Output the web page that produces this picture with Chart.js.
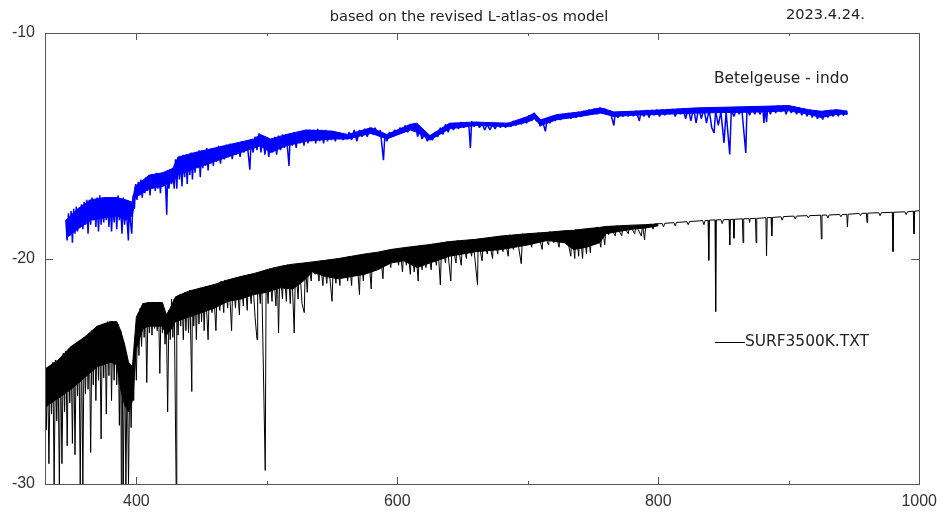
<!DOCTYPE html>
<html>
<head>
<meta charset="utf-8">
<title>Betelgeuse - L-atlas-os</title>
<script src="https://cdn.jsdelivr.net/npm/chart.js@4"></script>
<style>
  html, body { margin: 0; padding: 0; background: #fff; }
  #wrap { width: 942px; height: 515px; }
</style>
</head>
<body>
<div id="wrap"><canvas id="spec" width="942" height="515"></canvas></div>
<script>
// tick labels / marks
const xTickLabels = [400, 600, 800, 1000];
const xTickMarks = [400, 500, 600, 700, 800, 900, 1000];
const yTickLabels = [-30, -20, -10];
const yTickMarks = [-20];

// model spectrum SURF3500K.TXT  [wavelength, flux]
const surfSpectrum = [
  [330,-25.0],[331,-27.6],[332,-24.9],[333,-29.1],[334,-24.8],[335,-26.9],[336,-24.6],[337,-30.0],[338,-24.5],[339,-27.2],
  [340,-24.6],[341,-30.0],[342,-24.4],[343,-29.1],[344,-24.2],[345,-26.8],[346,-24.1],[347,-28.3],[348,-24.0],[349,-26.4],
  [350,-23.9],[351,-28.2],[352,-23.9],[353,-28.7],[354,-23.8],[355,-26.1],[356,-23.7],[357,-30.0],[358,-23.6],[359,-30.0],
  [360,-23.5],[361,-26.0],[362,-23.4],[363,-25.8],[364,-23.3],[365,-28.6],[366,-23.2],[367,-25.6],[368,-23.1],[369,-26.3],
  [370,-23.0],[371,-25.4],[372,-23.0],[373,-28.0],[374,-22.9],[375,-25.3],[376,-22.9],[377,-26.9],[378,-22.8],[379,-25.2],
  [380,-22.8],[381,-26.3],[382,-22.8],[383,-25.4],[384,-22.8],[385,-25.6],[386,-22.9],[387,-27.4],[388,-23.2],[388.5,-30.0],
  [389,-23.6],[390,-30.0],[391,-24.0],[392,-30.0],[393,-24.6],[394,-30.0],[395,-25.0],[396,-27.5],[397,-24.8],[398,-26.3],
  [399,-23.5],[400,-25.4],[401,-22.6],[402,-24.3],[403,-22.2],[404,-23.9],[405,-22.0],[406,-23.5],[407,-22.0],[408,-25.5],
  [409,-21.95],[410,-23.3],[411,-22.0],[412,-23.4],[413,-21.95],[414,-23.1],[415,-22.0],[416,-23.2],[417,-21.95],[418,-25.1],
  [419,-21.95],[420,-23.3],[421,-22.2],[422,-23.8],[423,-22.6],[424,-26.8],[425,-22.3],[426,-23.6],[427,-21.8],[428,-23.5],
  [429,-21.8],[430.5,-30.0],[431,-21.7],[432,-23.4],[433,-21.6],[434,-23.0],[435,-21.6],[436,-23.6],[437,-21.5],[438,-23.2],
  [439,-21.5],[440,-23.3],[441,-21.4],[442.5,-25.9],[443,-21.4],[444,-23.0],[445,-21.4],[446,-23.6],[447,-21.35],[448,-22.9],
  [449,-21.3],[450,-22.8],[451,-21.3],[452,-23.2],[453,-21.25],[455,-23.6],[456,-21.2],[458,-22.4],[459,-21.15],[461,-23.2],
  [462,-21.1],[464,-22.3],[465,-21.0],[467,-22.4],[468,-20.95],[470,-22.2],[471,-20.95],[473,-23.2],[474,-20.9],[476,-22.2],
  [477,-20.85],[479,-22.5],[480,-20.8],[482,-22.1],[483,-20.75],[485,-22.3],[486,-20.7],[488,-22.0],[489,-20.7],[491,-22.6],
  [492.5,-23.6],[493,-20.6],[495,-22.0],[496,-20.55],[498.8,-29.4],[499.5,-20.5],[501,-22.0],[502,-20.45],[504,-21.9],[505,-20.4],
  [507,-22.1],[508,-20.4],[509,-23.3],[510,-20.35],[512,-21.8],[513,-20.3],[515,-21.9],[516,-20.27],[518,-22.0],[519,-20.25],
  [521,-23.3],[522,-20.25],[524,-21.8],[525,-20.2],[527,-22.0],[528.7,-22.4],[529.5,-20.2],[531,-21.5],[532,-20.2],[534,-21.0],
  [535,-20.15],[537,-20.7],[538,-20.15],[540,-21.0],[541,-20.1],[543,-21.2],[544,-20.1],[546,-21.1],[547,-20.05],[550,-21.9],
  [551,-20.05],[553,-21.1],[554,-20.0],[556,-21.2],[557,-20.0],[559,-20.8],[560,-19.95],[562,-21.0],[563,-19.9],[565,-21.2],
  [566,-19.9],[568,-20.6],[569,-19.85],[571,-21.6],[572,-19.85],[574,-21.0],[575,-19.8],[577,-20.6],[578,-19.8],[580,-21.35],
  [581,-19.75],[583,-20.5],[584,-19.75],[586,-20.4],[587,-19.7],[589,-20.9],[590,-19.7],[592,-20.3],[593,-19.65],[595,-20.4],
  [596,-19.6],[598,-20.2],[599,-19.6],[601,-20.3],[602,-19.55],[604,-20.6],[605,-19.55],[607,-20.3],[608,-19.5],[610,-20.7],
  [611,-19.5],[613,-20.6],[614,-19.45],[616,-21.0],[617,-19.45],[619,-20.5],[620,-19.4],[622,-20.4],[623,-19.4],[626,-20.5],
  [627,-19.35],[630,-20.3],[631,-19.35],[633,-21.17],[634,-19.3],[637,-20.2],[638,-19.25],[641,-21.0],[642,-19.25],[645,-20.2],
  [646,-19.2],[649,-20.3],[650,-19.2],[653,-20.0],[654,-19.2],[657,-19.9],[658,-19.15],[661.5,-21.17],[662,-19.15],[665,-20.1],
  [666,-19.1],[669,-19.8],[670,-19.1],[673,-20.0],[674,-19.05],[677,-19.8],[678,-19.0],[681,-19.7],[682,-19.0],[685,-19.9],
  [686,-18.95],[689,-19.6],[690,-18.95],[693,-19.5],[695,-20.23],[696,-18.9],[699,-19.4],[700,-18.9],[703,-19.5],[704,-18.9],
  [707,-19.3],[708,-18.85],[711,-19.6],[712,-18.85],[716,-19.4],[717,-18.8],[720,-19.3],[721,-18.8],[724,-19.5],[725,-18.8],
  [728,-19.3],[729,-18.75],[733,-19.9],[734,-18.75],[736,-20.0],[737,-18.7],[739,-19.9],[740,-18.7],[742,-20.0],[743,-18.7],
  [745,-19.8],[746,-18.65],[748,-19.76],[749,-18.65],[752,-19.2],[753,-18.6],[756,-19.5],[757,-18.6],[759,-19.39],[760,-18.58],
  [762,-18.95],[763,-18.56],[767,-19.0],[768,-18.55],[772,-19.0],[773,-18.54],[777,-18.9],[778,-18.52],[782,-18.9],[783,-18.52],
  [787,-19.0],[788,-18.51],[789.5,-19.17],[790.5,-18.5],[795,-18.48],[796,-18.7],[797,-18.47],[803,-18.45],[804,-18.6],[805,-18.44],
  [812,-18.41],[813,-18.55],[814,-18.4],[822,-18.37],[823,-18.5],[824,-18.36],[834,-18.32],[835,-18.5],[836,-18.31],[838.2,-18.31],
  [838.7,-20.08],[839.2,-18.3],[843.5,-18.29],[844,-22.35],[844.5,-18.29],[848,-18.28],[849,-18.45],[850,-18.28],[854.3,-18.27],[854.8,-19.4],
  [855.3,-18.27],[857.5,-18.26],[858,-19.1],[858.5,-18.26],[864.5,-18.24],[865,-19.3],[865.5,-18.24],[869.5,-18.23],[870,-18.4],[870.5,-18.23],
  [874.5,-18.22],[875,-19.3],[875.5,-18.22],[882.5,-18.19],[883,-19.88],[883.5,-18.19],[886.5,-18.18],[887,-19.0],[887.5,-18.18],[894,-18.15],
  [895,-18.3],[896,-18.14],[904,-18.12],[905,-18.25],[906,-18.12],[914,-18.1],[915,-18.2],[916,-18.1],[924.5,-18.08],[925,-19.13],
  [925.5,-18.08],[929,-18.07],[930,-18.2],[931,-18.07],[939,-18.05],[940,-18.15],[941,-18.05],[944.5,-18.04],[945,-18.6],[945.5,-18.04],
  [954,-18.0],[955,-18.1],[956,-18.0],[959.5,-17.99],[960,-18.4],[960.5,-17.99],[969,-17.97],[970,-18.1],[971,-17.97],[979.4,-17.95],
  [979.9,-19.69],[980.4,-17.95],[989,-17.93],[990,-18.05],[991,-17.93],[995.5,-17.9],[996,-18.9],[996.5,-17.9],[1000,-17.88]
];

// dense part of the model spectrum: top of the band and bottom of its solid core
const surfBandWl = [330,340,350,360,370,380,385,388,391,394,397,400,405,410,415,420,423,426,430,440,
  450,460,470,480,490,500,510,520,528,535,545,555,565,575,585,595,605,615,625,640,
  660,680,700,715,728,735,745,755,760,770,780,790,800];
const surfBandTop = [-24.9,-24.5,-23.9,-23.5,-23.0,-22.8,-22.8,-23.2,-23.8,-24.6,-24.8,-22.6,-22.0,-21.95,-21.95,-21.95,-22.5,-22.2,-21.7,-21.45,
  -21.3,-21.15,-20.95,-20.8,-20.67,-20.5,-20.35,-20.25,-20.2,-20.15,-20.08,-20.0,-19.9,-19.8,-19.72,-19.6,-19.52,-19.45,-19.38,-19.25,
  -19.15,-19.0,-18.9,-18.84,-18.77,-18.75,-18.68,-18.62,-18.58,-18.55,-18.52,-18.5,-18.47];
const surfBandCore = [-26.6,-26.2,-25.8,-25.3,-24.8,-24.6,-24.7,-25.8,-26.5,-26.8,-26.3,-24.0,-23.1,-23.0,-23.0,-23.0,-23.4,-23.2,-22.8,-22.6,
  -22.4,-22.2,-21.9,-21.8,-21.6,-21.5,-21.3,-21.35,-21.0,-20.6,-20.8,-20.9,-20.8,-20.7,-20.5,-20.2,-20.1,-20.4,-20.2,-19.9,
  -19.7,-19.6,-19.4,-19.2,-19.3,-19.6,-19.5,-19.3,-18.9,-18.8,-18.7,-18.65,-18.55];

// observed Betelgeuse spectrum (indo)  [wavelength, flux]
const betelgeuseSpectrum = [
  [346,-18.3],[347,-19.2],[348,-18.0],[349,-19.0],[350,-17.9],[351,-19.3],[352,-17.8],[353,-18.9],[354,-17.7],[355,-18.8],
  [356,-17.8],[357,-18.4],[358,-17.6],[359,-18.7],[360,-17.5],[361,-18.5],[362,-17.4],[363,-18.9],[364,-17.4],[365,-18.5],
  [366,-17.3],[367,-18.3],[368,-17.5],[369,-18.6],[370,-17.3],[371,-18.8],[372,-17.2],[373,-18.5],[374,-17.4],[375,-18.4],
  [376,-17.6],[377,-18.3],[378,-17.3],[379,-18.6],[380,-17.4],[381,-18.8],[382,-17.5],[383,-18.4],[384,-17.3],[385,-18.7],
  [386,-17.2],[387,-18.3],[388,-17.6],[389,-18.9],[390,-17.3],[391,-18.5],[392,-17.5],[393.9,-19.2],[394.5,-17.6],[395.5,-18.4],
  [396.5,-18.9],[397.5,-17.2],[398.5,-17.8],[399.5,-16.7],[400.5,-17.4],[401.5,-16.6],[402.5,-17.2],[403.5,-16.5],[404.5,-17.3],[405.5,-16.6],
  [406.5,-17.1],[407.5,-16.4],[408.5,-17.0],[409.5,-16.3],[410.5,-17.2],[411.5,-16.4],[412.5,-16.9],[413.5,-16.3],[414.5,-17.0],[415.5,-16.2],
  [416.5,-16.9],[417.5,-16.4],[418.5,-17.1],[419.5,-16.2],[420.5,-16.8],[421.5,-16.3],[422.5,-16.9],[423.3,-18.06],[424,-16.2],[425,-16.9],
  [426,-16.1],[427,-16.7],[428,-16.0],[429,-16.9],[430,-15.6],[431,-16.9],[432,-15.5],[433,-16.5],[434,-15.6],[435,-16.8],
  [436,-15.4],[437,-16.4],[438,-15.5],[439,-16.7],[440,-15.4],[441,-16.3],[442,-15.3],[443,-16.5],[444,-15.4],[445,-16.2],
  [446,-15.3],[447,-16.0],[448,-15.2],[449,-16.4],[450,-15.2],[451,-16.0],[452,-15.2],[453,-15.9],[454,-15.1],[455,-16.1],
  [456,-15.2],[457,-15.8],[458,-15.1],[459,-15.9],[460,-15.1],[461.5,-15.7],[463,-15.0],[464.5,-15.8],[466,-15.0],[467.5,-15.6],
  [469,-14.95],[470.5,-15.5],[472,-14.9],[473.5,-15.6],[475,-14.9],[476.5,-15.4],[478,-14.85],[479.5,-15.5],[481,-14.8],[482.5,-15.3],
  [484,-14.8],[485.5,-15.2],[487,-16.06],[488,-14.75],[489.5,-15.3],[491,-14.6],[492.5,-15.2],[494,-14.45],[495.5,-15.3],[497,-14.6],
  [498.5,-15.4],[500,-14.7],[501.5,-15.5],[503,-14.7],[504.5,-15.3],[506,-14.6],[507.5,-15.4],[509,-14.55],[510.5,-15.2],[512,-14.5],
  [513.5,-15.1],[515,-14.5],[517,-15.9],[518,-14.45],[519.5,-15.0],[521,-14.4],[522.5,-15.1],[524,-14.4],[525.5,-14.9],[527,-14.35],
  [528.5,-15.0],[530,-14.3],[531.5,-14.9],[533,-14.3],[534.5,-14.8],[536,-14.3],[537.5,-14.9],[539,-14.25],[540.5,-14.8],[542,-14.3],
  [543.5,-14.9],[545,-14.3],[546.5,-14.8],[548,-14.35],[549.5,-14.75],[551,-14.35],[552.5,-14.8],[554,-14.4],[555.5,-14.7],[557,-14.45],
  [558.5,-14.75],[560,-14.5],[561.5,-14.7],[563,-14.4],[565,-14.75],[567,-14.3],[569,-14.8],[571,-14.3],[573,-14.6],[575,-14.25],
  [577,-14.6],[579,-14.2],[581,-14.5],[583,-14.2],[585,-14.55],[587,-14.3],[589.4,-15.64],[590.5,-14.5],[592,-14.8],[594,-14.4],
  [596,-14.6],[598,-14.3],[600,-14.5],[602,-14.2],[604,-14.4],[606,-14.1],[608,-14.4],[610,-14.05],[612,-14.35],[614,-14.0],
  [615.5,-14.6],[617,-14.3],[619,-14.7],[621,-14.45],[623,-14.8],[625,-14.55],[627,-14.75],[629,-14.4],[631,-14.6],[633,-14.2],
  [635,-14.5],[637,-14.05],[639,-14.4],[641,-14.0],[643,-14.3],[645,-14.0],[647,-14.25],[649,-13.95],[651,-14.2],[653,-13.95],
  [655,-14.2],[656,-15.1],[657,-13.92],[659,-14.15],[661,-13.95],[663,-14.2],[665,-14.0],[667,-14.3],[669,-14.05],[671,-14.3],
  [673,-14.05],[675,-14.25],[677,-14.0],[679,-14.2],[681,-14.0],[683,-14.2],[685,-13.99],[687,-14.15],[689,-13.9],[691,-14.1],
  [693,-13.85],[695,-14.05],[697,-13.77],[699,-14.0],[701,-13.65],[703,-13.9],[705,-13.54],[706.5,-13.9],[708,-13.85],[709.5,-14.14],
  [711,-13.85],[713.5,-14.36],[715,-13.8],[717,-14.0],[719,-13.7],[721,-13.9],[723,-13.62],[725,-13.85],[727,-13.6],[729,-13.8],
  [731,-13.55],[733,-13.8],[735,-13.54],[737,-13.75],[739,-13.5],[741,-13.7],[743,-13.45],[745,-13.65],[747,-13.4],[749,-13.6],
  [751,-13.35],[753,-13.6],[755,-13.32],[757,-13.55],[759,-13.35],[761,-13.6],[763,-13.45],[766,-14.1],[767,-13.54],[769,-13.75],
  [771,-13.5],[773,-13.7],[775,-13.48],[777,-13.7],[779,-13.47],[781,-13.69],[783,-13.45],[785.5,-13.9],[787,-13.45],[789,-13.7],
  [791,-13.42],[793,-13.75],[795,-13.42],[797,-13.65],[799,-13.4],[801,-13.7],[803,-13.4],[805,-13.65],[807,-13.38],[809,-13.6],
  [811,-13.38],[813,-13.7],[815,-13.36],[817,-13.6],[819,-13.35],[821,-13.8],[823,-13.34],[825,-13.9],[827,-13.32],[829,-13.99],
  [831,-13.32],[833,-13.8],[835,-13.35],[837,-14.0],[839,-13.4],[841,-14.2],[842.8,-14.43],[844,-13.45],[846,-14.1],[848,-13.5],
  [850.4,-14.87],[852,-13.5],[854.8,-15.39],[856,-13.4],[858,-13.7],[860,-13.35],[862,-13.6],[864,-13.35],[867.1,-15.32],[868,-13.3],
  [870,-13.65],[872,-13.3],[874,-13.6],[876,-13.27],[878,-13.6],[880,-13.25],[881,-13.99],[882,-13.27],[883,-13.95],[884,-13.25],
  [886,-13.6],[888,-13.24],[890,-13.55],[892,-13.22],[894,-13.5],[896,-13.22],[898,-13.6],[900,-13.22],[902,-13.55],[904,-13.25],
  [906,-13.6],[908,-13.3],[910,-13.65],[912,-13.35],[914,-13.69],[916,-13.4],[918,-13.75],[920,-13.45],[922,-13.8],[924,-13.47],
  [926,-13.84],[928,-13.45],[930,-13.75],[932,-13.42],[934,-13.7],[936,-13.4],[938,-13.69],[940,-13.42],[942,-13.65],[944,-13.45],
  [945,-13.6]
];

// solid core of the observed spectrum
const blueBandWl = [346,355,365,375,385,392,397,399,410,420,428,432,445,460,475,490,495,503,515,530,
  550,562,580,592,610,615,625,640,660,685,700,705,710,722,740,756,766,780,805,830,
  880,900,915,925,937,945];
const blueBandTop = [-18.3,-17.8,-17.4,-17.3,-17.3,-17.4,-17.5,-16.8,-16.3,-16.2,-16.0,-15.5,-15.3,-15.1,-14.9,-14.7,-14.5,-14.7,-14.5,-14.3,
  -14.35,-14.5,-14.2,-14.5,-14.05,-14.0,-14.55,-14.0,-13.95,-14.0,-13.7,-13.55,-13.85,-13.62,-13.5,-13.32,-13.5,-13.47,-13.4,-13.32,
  -13.25,-13.22,-13.4,-13.47,-13.4,-13.47];
const blueBandLow = [-19.1,-18.7,-18.3,-18.2,-18.1,-18.3,-18.1,-17.3,-16.9,-16.8,-16.6,-16.3,-16.0,-15.7,-15.4,-15.1,-15.0,-15.3,-15.0,-14.8,
  -14.7,-14.7,-14.45,-14.7,-14.3,-14.4,-14.75,-14.25,-14.1,-14.15,-13.95,-13.8,-14.1,-13.85,-13.7,-13.55,-13.7,-13.65,-13.6,-13.55,
  -13.5,-13.45,-13.6,-13.75,-13.6,-13.6];

const titleText = 'based on the revised L-atlas-os model';
const dateText = '2023.4.24.';
const obsLabel = 'Betelgeuse - indo';
const modelLabel = 'SURF3500K.TXT';

function toPoints(arr) {
  return arr.map(p => ({ x: p[0], y: p[1] }));
}

function toXY(xs, ys) {
  return xs.map((v, i) => ({ x: v, y: ys[i] }));
}

function serie(label, data, color, width, extra) {
  return Object.assign({
    label: label,
    data: data,
    borderColor: color,
    backgroundColor: color,
    borderWidth: width,
    borderJoinStyle: 'bevel',
    pointRadius: 0,
    tension: 0,
    fill: false
  }, extra || {});
}

// marco, marcas de los ejes y textos
const marcoPlugin = {
  id: 'marco',
  afterDraw(chart) {
    const ctx = chart.ctx;
    const a = chart.chartArea;
    const x = chart.scales.x;
    const y = chart.scales.y;
    ctx.save();
    ctx.strokeStyle = '#555';
    ctx.lineWidth = 1;
    ctx.strokeRect(Math.round(a.left) + 0.5, Math.round(a.top) + 0.5,
      Math.round(a.right - a.left), Math.round(a.bottom - a.top));

    ctx.beginPath();
    xTickMarks.forEach(v => {
      const px = Math.round(x.getPixelForValue(v)) + 0.5;
      const len = xTickLabels.includes(v) ? 7 : 3;
      ctx.moveTo(px, a.bottom);
      ctx.lineTo(px, a.bottom - len);
      ctx.moveTo(px, a.top);
      ctx.lineTo(px, a.top + len);
    });
    yTickMarks.forEach(v => {
      const py = Math.round(y.getPixelForValue(v)) + 0.5;
      ctx.moveTo(a.left, py);
      ctx.lineTo(a.left + 8, py);
      ctx.moveTo(a.right, py);
      ctx.lineTo(a.right - 8, py);
    });
    ctx.stroke();

    ctx.fillStyle = '#222';
    ctx.textBaseline = 'middle';
    ctx.textAlign = 'center';
    ctx.font = '14.6px "DejaVu Sans"';
    ctx.fillText(titleText, 469, 17);
    ctx.textAlign = 'left';
    ctx.fillText(dateText, 786, 15);
    ctx.font = '15.4px "DejaVu Sans"';
    ctx.fillText(obsLabel, 714, 79);
    ctx.fillText(modelLabel, 745, 342);

    ctx.strokeStyle = '#000';
    ctx.beginPath();
    ctx.moveTo(715, 342.5);
    ctx.lineTo(745, 342.5);
    ctx.stroke();
    ctx.restore();
  }
};

function crearGrafico() {
  const canvas = document.getElementById('spec');
  new Chart(canvas, {
    type: 'line',
    data: {
      datasets: [
        serie(modelLabel, toPoints(surfSpectrum), '#000', 1),
        serie('band-top', toXY(surfBandWl, surfBandTop), '#000', 1, { fill: '+1' }),
        serie('band-core', toXY(surfBandWl, surfBandCore), '#000', 1),
        serie(obsLabel, toPoints(betelgeuseSpectrum), '#0000ff', 1.5),
        serie('blue-top', toXY(blueBandWl, blueBandTop), '#0000ff', 1, { fill: '+1' }),
        serie('blue-low', toXY(blueBandWl, blueBandLow), '#0000ff', 1)
      ]
    },
    options: {
      responsive: false,
      animation: false,
      events: [],
      layout: { padding: { top: 33, right: 20, left: 0, bottom: 0 } },
      plugins: {
        legend: { display: false },
        title: { display: false },
        tooltip: { enabled: false }
      },
      scales: {
        x: {
          type: 'linear',
          min: 330,
          max: 1000,
          grid: { display: false, drawTicks: false },
          border: { display: false },
          ticks: {
            stepSize: 100,
            autoSkip: false,
            maxRotation: 0,
            padding: 5,
            color: '#333',
            font: { family: '"Liberation Sans", Arial', size: 16, lineHeight: 1.6 },
            callback: v => (xTickLabels.includes(v) ? String(v) : '')
          },
          afterFit: s => { s.height = 31; }
        },
        y: {
          min: -30,
          max: -10,
          grid: { display: false, drawTicks: false },
          border: { display: false },
          ticks: {
            stepSize: 10,
            padding: 10,
            color: '#333',
            font: { family: '"Liberation Sans", Arial', size: 16 },
            callback: v => (yTickLabels.includes(v) ? String(v) : '')
          },
          afterFit: s => { s.width = 45; }
        }
      }
    },
    plugins: [marcoPlugin]
  });
}

if (document.readyState === 'loading') {
  document.addEventListener('DOMContentLoaded', crearGrafico);
} else {
  crearGrafico();
}
</script>
</body>
</html>
